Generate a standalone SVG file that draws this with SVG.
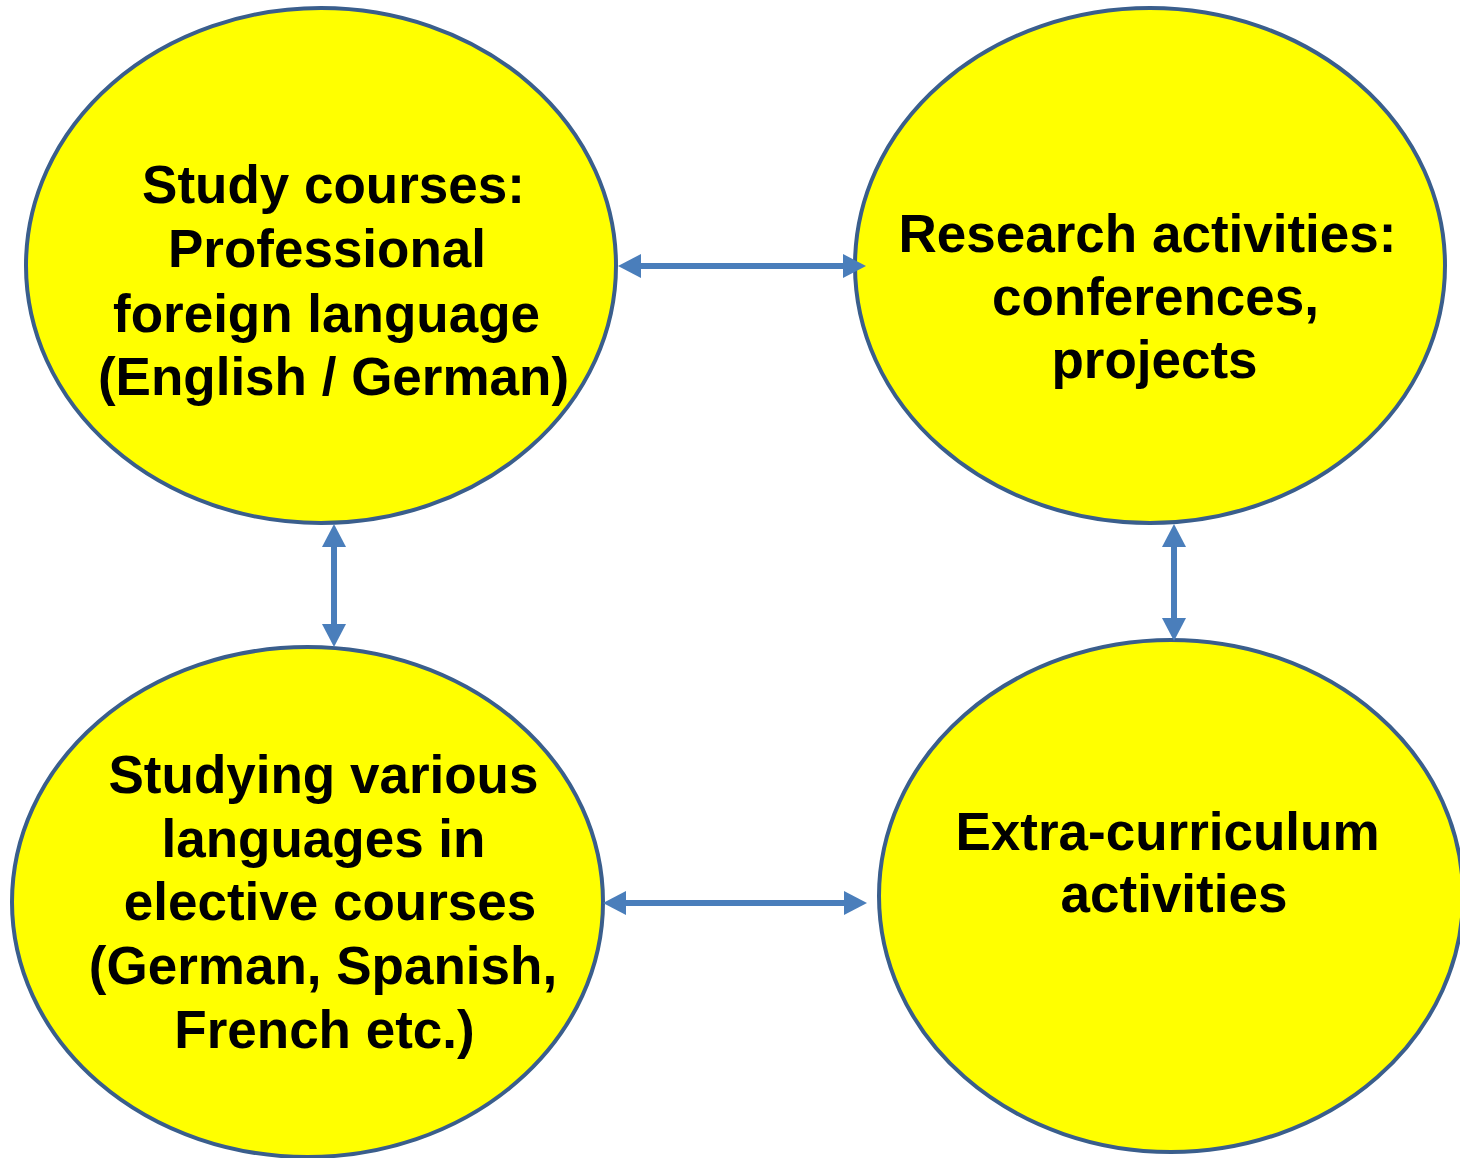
<svg xmlns="http://www.w3.org/2000/svg" width="1460" height="1158" viewBox="0 0 1460 1158">
  <defs>
    <style>
      .node { fill: #FFFF00; stroke: #3A5E8C; stroke-width: 4; }
      .label { font-family: "Liberation Sans", Arial, sans-serif; font-weight: bold; font-size: 53px; fill: #000; text-anchor: middle; }
      .link { stroke: #4A7EBB; stroke-width: 6; fill: none; marker-start: url(#head); marker-end: url(#head); }
    </style>
    <marker id="head" viewBox="0 0 23 24" refX="1" refY="12" markerWidth="23" markerHeight="24" markerUnits="userSpaceOnUse" orient="auto-start-reverse">
      <path d="M0,0 L23,12 L0,24 Z" fill="#4A7EBB"/>
    </marker>
  </defs>
  <rect width="1460" height="1158" fill="#FFFFFF"/>

  <g id="study-courses">
    <ellipse class="node" cx="321" cy="265.5" rx="295" ry="257.5"/>
    <text class="label" x="333.5" y="203">Study courses:</text>
    <text class="label" x="327" y="267">Professional</text>
    <text class="label" x="326.5" y="332">foreign language</text>
    <text class="label" x="333.5" y="395">(English / German)</text>
  </g>

  <g id="research-activities">
    <ellipse class="node" cx="1150" cy="265.5" rx="295" ry="257.5"/>
    <text class="label" x="1147.5" y="252">Research activities:</text>
    <text class="label" x="1155.5" y="315">conferences,</text>
    <text class="label" x="1154.5" y="378">projects</text>
  </g>

  <g id="elective-languages">
    <ellipse class="node" cx="307.5" cy="902" rx="295.5" ry="255"/>
    <text class="label" x="323.5" y="793">Studying various</text>
    <text class="label" x="323.5" y="857">languages in</text>
    <text class="label" x="330" y="920">elective courses</text>
    <text class="label" x="323" y="984">(German, Spanish,</text>
    <text class="label" x="324.5" y="1048">French etc.)</text>
  </g>

  <g id="extra-curriculum">
    <ellipse class="node" cx="1171" cy="896" rx="292" ry="256"/>
    <text class="label" x="1167.5" y="850">Extra-curriculum</text>
    <text class="label" x="1174" y="912">activities</text>
  </g>

  <!-- two-way links, drawn over the node outlines -->
  <g id="connectors">
    <line class="link" x1="640" y1="266" x2="844" y2="266"/>
    <line class="link" x1="334" y1="546" x2="334" y2="625"/>
    <line class="link" x1="1174" y1="546" x2="1174" y2="619"/>
    <line class="link" x1="625" y1="903" x2="845" y2="903"/>
  </g>
</svg>
